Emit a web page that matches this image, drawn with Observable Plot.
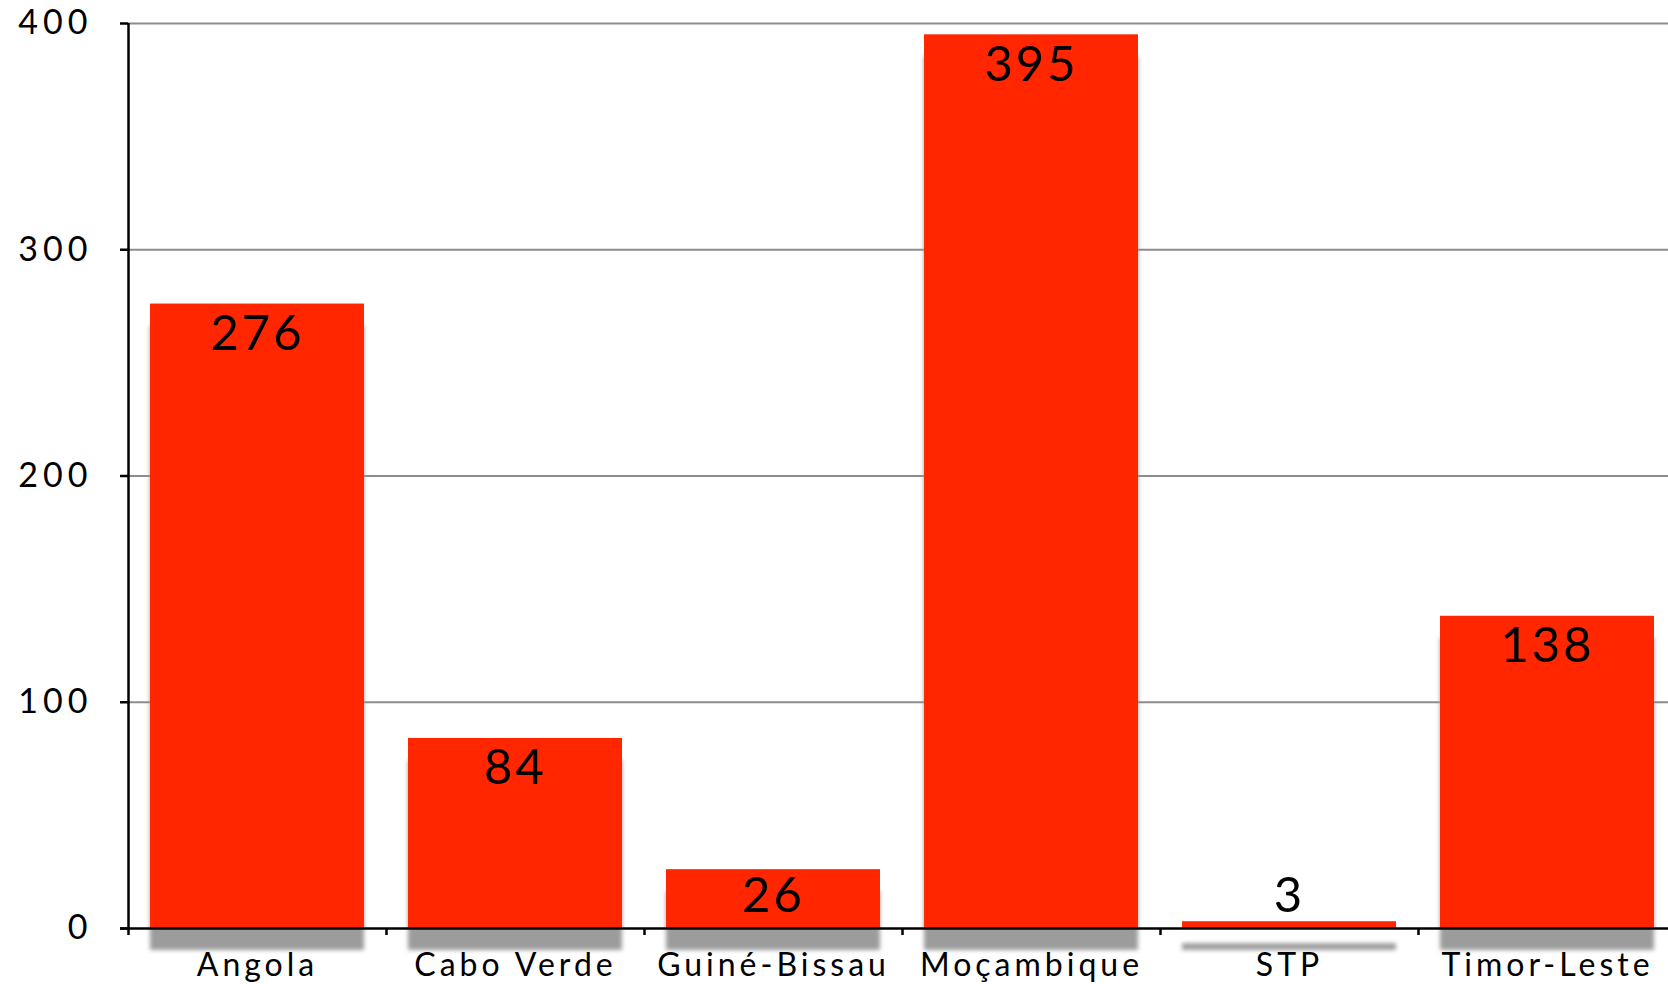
<!DOCTYPE html>
<html>
<head>
<meta charset="utf-8">
<script src="https://cdn.jsdelivr.net/npm/d3@7"></script>
<script src="https://cdn.jsdelivr.net/npm/@observablehq/plot@0.6"></script>
<style>
  html, body { margin: 0; padding: 0; background: #fff; overflow: hidden; }
  #chart svg { display: block; font-family: Lato, sans-serif; }
  g[aria-label="y-axis tick label"] text { letter-spacing: 5px; }
  g[aria-label="x-axis tick label"] text { letter-spacing: 4px; }
</style>
</head>
<body>
<div id="chart"></div>
<script>
// Data
const countries = ["Angola", "Cabo Verde", "Guiné-Bissau", "Moçambique", "STP", "Timor-Leste"];
const values = [276, 84, 26, 395, 3, 138];
const yTicks = [0, 100, 200, 300, 400];
const gridTicks = [100, 200, 300, 400];

const data = countries.map((c, i) => ({country: c, value: values[i]}));

// Layout
const W = 1668, H = 984, mL = 128, mR = -8, mT = 23, mB = 56;
const pInner = 0.17, pOuter = 0.085;
const step = (W - mL - mR) / (countries.length - pInner + 2 * pOuter);
const barColor = "#ff2600";

const chart = Plot.plot({
  width: W,
  height: H,
  marginLeft: mL,
  marginRight: mR,
  marginTop: mT,
  marginBottom: mB,
  style: {background: "#fff", fontFamily: "Lato, sans-serif", color: "#000"},
  x: {domain: countries, paddingInner: pInner, paddingOuter: pOuter, align: 0.5, label: null},
  y: {domain: [0, 400], label: null},
  marks: [
    Plot.ruleY(gridTicks, {stroke: "#8c8c8c", strokeWidth: 2}),
    Plot.barY(data, {x: "country", y: "value", fill: "#9c9c9c", dy: 22}),
    Plot.barY(data, {x: "country", y: "value", fill: barColor}),
    Plot.ruleX([countries[0]], {x: d => d, dx: -step / 2, insetBottom: -7, stroke: "#000", strokeWidth: 2.5}),
    Plot.ruleX(countries, {x: d => d, dx: step / 2, y1: d => 0, y2: d => 0, insetBottom: -7, stroke: "#000", strokeWidth: 2.5}),
    Plot.ruleY([0], {insetLeft: -8, stroke: "#000", strokeWidth: 2.5}),
    Plot.axisY(yTicks, {tickSize: 8, tickPadding: 28, fontSize: 34, stroke: "#000", strokeWidth: 2.5, fill: "#000", label: null}),
    Plot.axisX({tickSize: 0, tickPadding: 25, fontSize: 32, fill: "#000", label: null}),
    Plot.text(data.filter(d => d.value >= 30), {x: "country", y: "value", text: d => String(d.value), lineAnchor: "bottom", dy: 46, fontSize: 49, fill: "#000"}),
    Plot.text(data.filter(d => d.value < 30), {x: "country", y: d => 0, text: d => String(d.value), lineAnchor: "bottom", dy: -17, fontSize: 49, fill: "#000"})
  ]
});

// soft drop shadow under the bars (first bar mark = shadow layer)
const ns = "http://www.w3.org/2000/svg";
const defs = document.createElementNS(ns, "defs");
const filter = document.createElementNS(ns, "filter");
filter.setAttribute("id", "bar-shadow");
filter.setAttribute("x", "-20%");
filter.setAttribute("y", "-20%");
filter.setAttribute("width", "140%");
filter.setAttribute("height", "140%");
const blur = document.createElementNS(ns, "feGaussianBlur");
blur.setAttribute("stdDeviation", "2");
filter.appendChild(blur);
defs.appendChild(filter);
chart.insertBefore(defs, chart.firstChild);
const barGroups = chart.querySelectorAll('g[aria-label="bar"]');
if (barGroups.length) barGroups[0].setAttribute("filter", "url(#bar-shadow)");
chart.querySelectorAll('g[aria-label="text"] text').forEach(t => t.style.letterSpacing = "3px");

document.getElementById("chart").appendChild(chart);
</script>
</body>
</html>
